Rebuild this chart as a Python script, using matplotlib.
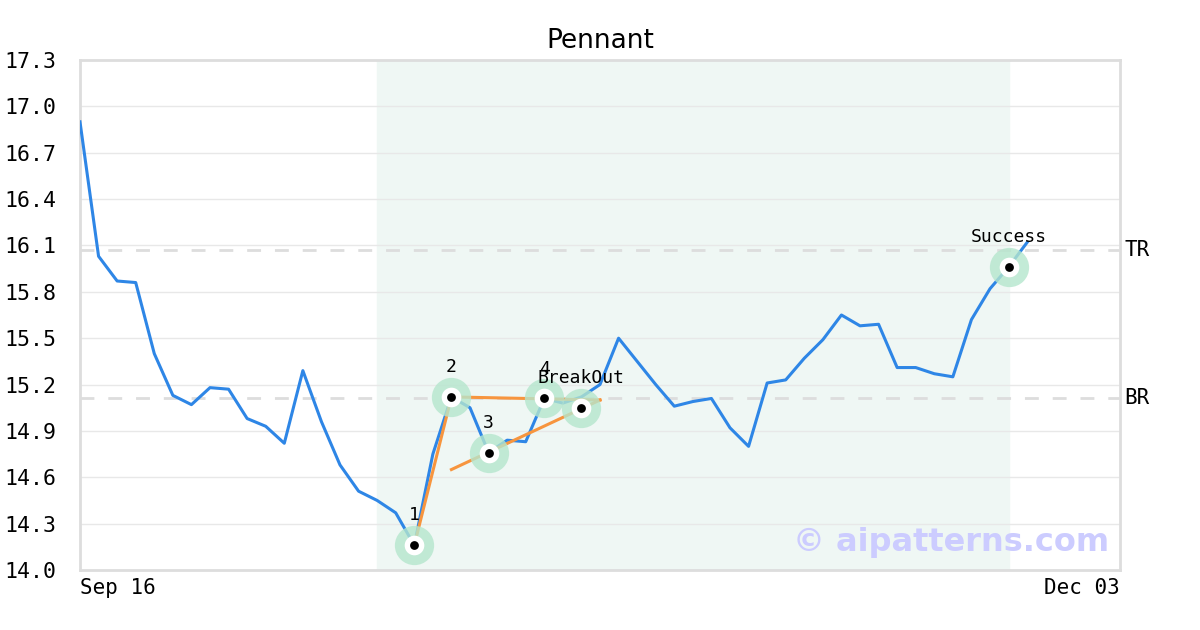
import numpy as np
import matplotlib
matplotlib.use('Agg')
import matplotlib.pyplot as plt

# closing prices, one per trading day (Sep 16 .. Dec 03 axis)
prices = [16.90, 16.03, 15.87, 15.86, 15.40, 15.13, 15.07, 15.18, 15.17, 14.98,
          14.93, 14.82, 15.29, 14.96, 14.68, 14.51, 14.45, 14.37, 14.16, 14.75,
          15.12, 15.05, 14.76, 14.84, 14.83, 15.11, 15.08, 15.12, 15.20, 15.50,
          15.35, 15.20, 15.06, 15.09, 15.11, 14.92, 14.80, 15.21, 15.23, 15.37,
          15.49, 15.65, 15.58, 15.59, 15.31, 15.31, 15.27, 15.25, 15.62, 15.82,
          15.96, 16.12]
n_slots = 57
x_labels = ['Sep 16', 'Dec 03']

# pattern points
pt_idx = [18, 20, 22, 25, 27, 50]
pt_val = [14.16, 15.12, 14.76, 15.11, 15.05, 15.96]
pt_names = ['1', '2', '3', '4', 'BreakOut', 'Success']

# trend lines
pole_x = [18, 20]
pole_y = [14.16, 15.12]
upper_x = [20, 28]
upper_y = [15.12, 15.10]
lower_x = [20, 28]
lower_y = [14.65, 15.10]

tr_level = 16.07
br_level = 15.11
shade_start, shade_end = 16, 50

yticks = [14.0, 14.3, 14.6, 14.9, 15.2, 15.5, 15.8, 16.1, 16.4, 16.7, 17.0, 17.3]

fig = plt.figure(figsize=(12, 6.3), dpi=100)
ax = fig.add_axes([80/1200, 60/630, 1040/1200, 510/630])

x = np.arange(len(prices))
ax.axvspan(shade_start, shade_end, color='#eff7f4', zorder=0)
for yv in yticks:
    ax.axhline(yv, color='#e8e8e8', lw=1, zorder=1)
ax.axhline(tr_level, color='#dddddd', lw=2, ls=(0, (5, 5)), zorder=1)
ax.axhline(br_level, color='#dddddd', lw=2, ls=(0, (5, 5)), zorder=1)

ax.plot(x, prices, color='#2e86e6', lw=2.2, zorder=3)
ax.plot(pole_x, pole_y, color='#f7953e', lw=2.2, zorder=4)
ax.plot(upper_x, upper_y, color='#f7953e', lw=2.2, zorder=4)
ax.plot(lower_x, lower_y, color='#f7953e', lw=2.2, zorder=4)

ax.scatter(pt_idx, pt_val, s=800, color='#b5e6cd', alpha=0.8, lw=0, zorder=5)
ax.scatter(pt_idx, pt_val, s=200, color='white', lw=0, zorder=6)
ax.scatter(pt_idx, pt_val, s=40, color='black', lw=0, zorder=7)

for i, v, name in zip(pt_idx, pt_val, pt_names):
    ax.annotate(name, (i, v), xytext=(0, 21.5), textcoords='offset points',
                ha='center', va='center', fontsize=13, family='DejaVu Sans Mono',
                zorder=8)

ax.text(1.004, tr_level, 'TR', fontsize=15, family='DejaVu Sans Mono',
        va='center', ha='left', transform=ax.get_yaxis_transform(), clip_on=False)
ax.text(1.004, br_level, 'BR', fontsize=15, family='DejaVu Sans Mono',
        va='center', ha='left', transform=ax.get_yaxis_transform(), clip_on=False)

ax.text(0.99, 0.053, '© aipatterns.com', transform=ax.transAxes, ha='right',
        va='center', fontsize=23, fontweight='bold', color='#ccccff', zorder=9)

ax.set_xlim(0, n_slots - 1)
ax.set_ylim(14.0, 17.3)
ax.set_yticks(yticks)
ax.set_yticklabels(['%.1f' % v for v in yticks], family='DejaVu Sans Mono', fontsize=15.5)
ax.set_xticks([0, n_slots - 1])
ax.set_xticklabels(x_labels, family='DejaVu Sans Mono', fontsize=15)
xt = ax.get_xticklabels()
xt[0].set_ha('left')
xt[1].set_ha('right')
ax.tick_params(length=0, pad=6)
ax.tick_params(axis='y', pad=17)
for sp in ax.spines.values():
    sp.set_color('#dddddd')
    sp.set_linewidth(2)

ax.set_title('Pennant', fontsize=19, pad=9)

fig.savefig('out.png', dpi=100)
